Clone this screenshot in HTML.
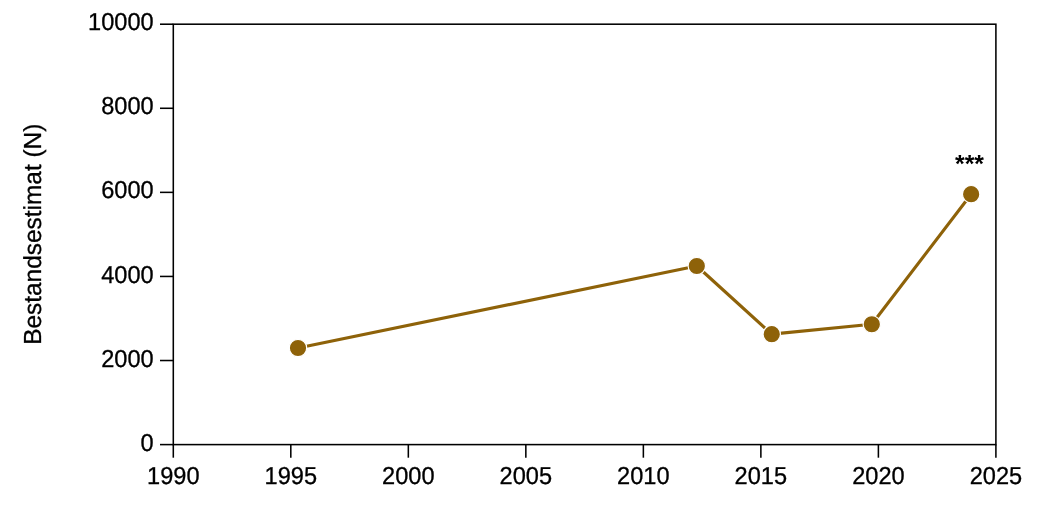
<!DOCTYPE html>
<html lang="de">
<head>
<meta charset="utf-8">
<title>Bestandsestimat</title>
<style>
html,body{margin:0;padding:0;background:#fff;}
body{width:1039px;height:507px;overflow:hidden;}
svg{display:block;}
text{font-family:"Liberation Sans",sans-serif;fill:#000;text-rendering:geometricPrecision;}
</style>
</head>
<body>
<svg width="1039" height="507" viewBox="0 0 1039 507">
<rect x="0" y="0" width="1039" height="507" fill="#ffffff"/>
<g stroke="#000" stroke-width="1.55" fill="none" stroke-linecap="butt">
<rect x="173.3" y="24.2" width="822.60" height="420.40"/>
<line x1="160.00" y1="444.60" x2="173.30" y2="444.60"/>
<line x1="160.00" y1="360.52" x2="173.30" y2="360.52"/>
<line x1="160.00" y1="276.44" x2="173.30" y2="276.44"/>
<line x1="160.00" y1="192.36" x2="173.30" y2="192.36"/>
<line x1="160.00" y1="108.28" x2="173.30" y2="108.28"/>
<line x1="160.00" y1="24.20" x2="173.30" y2="24.20"/>
<line x1="173.30" y1="444.60" x2="173.30" y2="457.70"/>
<line x1="290.81" y1="444.60" x2="290.81" y2="457.70"/>
<line x1="408.33" y1="444.60" x2="408.33" y2="457.70"/>
<line x1="525.84" y1="444.60" x2="525.84" y2="457.70"/>
<line x1="643.36" y1="444.60" x2="643.36" y2="457.70"/>
<line x1="760.87" y1="444.60" x2="760.87" y2="457.70"/>
<line x1="878.39" y1="444.60" x2="878.39" y2="457.70"/>
<line x1="995.90" y1="444.60" x2="995.90" y2="457.70"/>
</g>
<g font-size="23.6px" stroke="#000" stroke-width="0.3">
<text transform="translate(153.70,450.70) scale(1,1.04)" text-anchor="end">0</text>
<text transform="translate(153.70,366.62) scale(1,1.04)" text-anchor="end">2000</text>
<text transform="translate(153.70,282.54) scale(1,1.04)" text-anchor="end">4000</text>
<text transform="translate(153.70,198.46) scale(1,1.04)" text-anchor="end">6000</text>
<text transform="translate(153.70,114.38) scale(1,1.04)" text-anchor="end">8000</text>
<text transform="translate(153.70,30.30) scale(1,1.04)" text-anchor="end">10000</text>
<text transform="translate(173.30,484.40) scale(1,1.04)" text-anchor="middle">1990</text>
<text transform="translate(290.81,484.40) scale(1,1.04)" text-anchor="middle">1995</text>
<text transform="translate(408.33,484.40) scale(1,1.04)" text-anchor="middle">2000</text>
<text transform="translate(525.84,484.40) scale(1,1.04)" text-anchor="middle">2005</text>
<text transform="translate(643.36,484.40) scale(1,1.04)" text-anchor="middle">2010</text>
<text transform="translate(760.87,484.40) scale(1,1.04)" text-anchor="middle">2015</text>
<text transform="translate(878.39,484.40) scale(1,1.04)" text-anchor="middle">2020</text>
<text transform="translate(995.90,484.40) scale(1,1.04)" text-anchor="middle">2025</text>
<text transform="translate(41.3,234.25) rotate(-90) scale(1,1.01)" text-anchor="middle" font-size="24.43px">Bestandsestimat (N)</text>
</g>
<polyline points="298.00,348.00 696.80,266.00 771.75,334.15 871.80,324.25 971.15,194.20" fill="none" stroke="#8e6209" stroke-width="3.1" stroke-linejoin="round"/>
<circle cx="298.00" cy="348.00" r="8.7" fill="#8e6209" stroke="#ffffff" stroke-width="1.2"/>
<circle cx="696.80" cy="266.00" r="8.7" fill="#8e6209" stroke="#ffffff" stroke-width="1.2"/>
<circle cx="771.75" cy="334.15" r="8.7" fill="#8e6209" stroke="#ffffff" stroke-width="1.2"/>
<circle cx="871.80" cy="324.25" r="8.7" fill="#8e6209" stroke="#ffffff" stroke-width="1.2"/>
<circle cx="971.15" cy="194.20" r="8.7" fill="#8e6209" stroke="#ffffff" stroke-width="1.2"/>
<text x="969.55" y="171.5" text-anchor="middle" font-size="24.8px" font-weight="bold">***</text>
</svg>
</body>
</html>
